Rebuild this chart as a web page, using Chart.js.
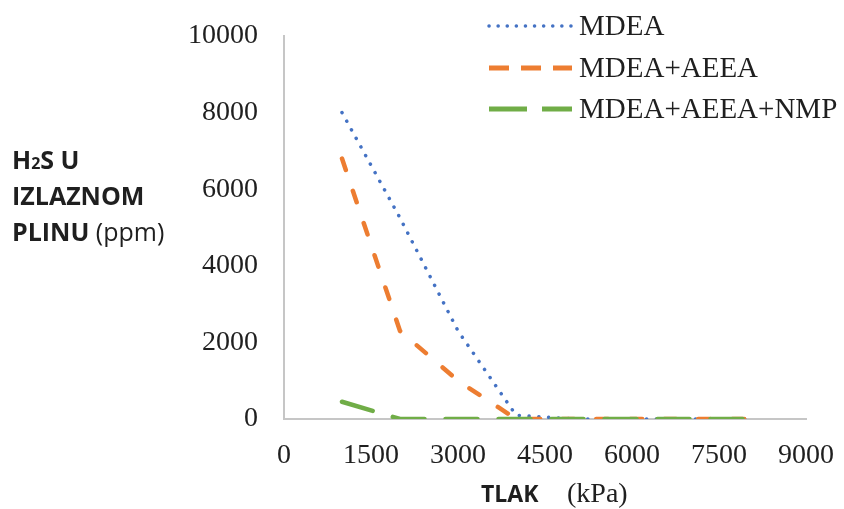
<!DOCTYPE html>
<html>
<head>
<meta charset="utf-8">
<script src="https://cdn.jsdelivr.net/npm/chart.js@4"></script>
<style>
  html, body { margin: 0; padding: 0; background: #fff; }
  #wrap { width: 844px; height: 509px; }
</style>
</head>
<body>
<div id="wrap"><canvas id="myChart" width="844" height="509"></canvas></div>
<script>
// tlak (kPa)
const pressure = [1000, 2000, 3000, 4000, 5000, 6000, 7000, 8000];
// H2S u izlaznom plinu (ppm)
const mdea = [8000, 5250, 2300, 100, 0, 0, 0, 0];
const mdeaAeea = [6800, 2300, 1000, 0, 0, 0, 0, 0];
const mdeaAeeaNmp = [450, 0, 0, 0, 0, 0, 0, 0];

const xTicks = [0, 1500, 3000, 4500, 6000, 7500, 9000];
const yTicks = [0, 2000, 4000, 6000, 8000, 10000];

const serif = '"Liberation Serif", "Times New Roman", serif';
const sans = '"Open Sans", "Liberation Sans", sans-serif';
const textColor = '#1f1f1f';

function pts(values) {
  return pressure.map((p, i) => ({ x: p, y: values[i] }));
}

// legend drawn in the top right corner, over the plot
const cornerLegend = {
  id: 'cornerLegend',
  afterDraw(chart) {
    const ctx = chart.ctx;
    const rows = [26, 68, 109];
    ctx.save();
    chart.data.datasets.forEach((ds, i) => {
      const y = rows[i];
      ctx.beginPath();
      ctx.strokeStyle = ds.borderColor;
      ctx.lineWidth = ds.legendWidth || ds.borderWidth;
      ctx.lineCap = ds.legendCap || ds.borderCapStyle || 'butt';
      ctx.setLineDash(ds.legendDash || ds.borderDash || []);
      ctx.moveTo(489, y);
      ctx.lineTo(572, y);
      ctx.stroke();
      ctx.setLineDash([]);
      ctx.fillStyle = textColor;
      ctx.font = '29px ' + serif;
      ctx.textBaseline = 'middle';
      ctx.textAlign = 'left';
      ctx.fillText(ds.label, 579, y + 1);
    });
    ctx.restore();
  }
};

// axis titles, written like the original (bold words, normal units)
const axisTitles = {
  id: 'axisTitles',
  afterDraw(chart) {
    const ctx = chart.ctx;
    ctx.save();
    ctx.fillStyle = textColor;
    ctx.textBaseline = 'alphabetic';
    ctx.textAlign = 'left';

    // y title
    let x = 12;
    ctx.font = 'bold 25px ' + sans;
    ctx.fillText('H', x, 169);
    x += ctx.measureText('H').width;
    ctx.font = 'bold 16px ' + sans;
    ctx.fillText('2', x, 169);
    x += ctx.measureText('2').width;
    ctx.font = 'bold 25px ' + sans;
    ctx.fillText('S U', x, 169);

    ctx.fillText('IZLAZNOM', 12, 205);

    ctx.fillText('PLINU', 12, 241);
    let w = ctx.measureText('PLINU ').width;
    ctx.font = '25px ' + sans;
    ctx.fillText('(ppm)', 12 + w, 241);

    // x title
    ctx.font = 'bold 23px ' + sans;
    ctx.fillText('TLAK', 481, 502);
    ctx.font = '28px ' + serif;
    ctx.fillText('(kPa)', 567, 502);
    ctx.restore();
  }
};

const ctx = document.getElementById('myChart');

new Chart(ctx, {
  type: 'scatter',
  data: {
    datasets: [{
      label: 'MDEA',
      data: pts(mdea),
      showLine: true,
      borderColor: '#4472C4',
      borderWidth: 3.5,
      borderCapStyle: 'round',
      borderDash: [0.1, 9.7],
      legendDash: [0.1, 9],
      pointRadius: 0,
      order: 3
    }, {
      label: 'MDEA+AEEA',
      data: pts(mdeaAeea),
      showLine: true,
      borderColor: '#ED7D31',
      borderWidth: 4.5,
      borderCapStyle: 'round',
      borderDash: [12, 22],
      legendDash: [20, 12],
      legendCap: 'butt',
      legendWidth: 5,
      pointRadius: 0,
      order: 2
    }, {
      label: 'MDEA+AEEA+NMP',
      data: pts(mdeaAeeaNmp),
      showLine: true,
      borderColor: '#70AD47',
      borderWidth: 4.5,
      borderCapStyle: 'round',
      borderDash: [32, 21],
      legendDash: [38, 15],
      legendCap: 'butt',
      legendWidth: 5,
      pointRadius: 0,
      order: 1
    }]
  },
  options: {
    responsive: false,
    animation: false,
    events: [],
    layout: { padding: { top: 36, right: 38, left: 0, bottom: 0 } },
    plugins: {
      legend: { display: false },
      tooltip: { enabled: false }
    },
    scales: {
      x: {
        type: 'linear',
        min: 0,
        max: 9000,
        afterFit: (s) => { s.height = 90; },
        afterBuildTicks: (s) => { s.ticks = xTicks.map(v => ({ value: v })); },
        grid: { drawOnChartArea: false, drawTicks: true, tickLength: 20, color: 'rgba(0,0,0,0)' },
        border: { color: '#c6c6c6', width: 2 },
        ticks: {
          padding: 0,
          color: textColor,
          font: { family: serif, size: 28 },
          callback: (v) => String(v)
        }
      },
      y: {
        type: 'linear',
        min: 0,
        max: 10000,
        afterFit: (s) => { s.width = 284; },
        afterBuildTicks: (s) => { s.ticks = yTicks.map(v => ({ value: v })); },
        grid: { drawOnChartArea: false, drawTicks: true, tickLength: 26, color: 'rgba(0,0,0,0)' },
        border: { color: '#c6c6c6', width: 2 },
        ticks: {
          padding: 0,
          color: textColor,
          font: { family: serif, size: 28 },
          callback: (v) => String(v)
        }
      }
    }
  },
  plugins: [cornerLegend, axisTitles]
});
</script>
</body>
</html>
